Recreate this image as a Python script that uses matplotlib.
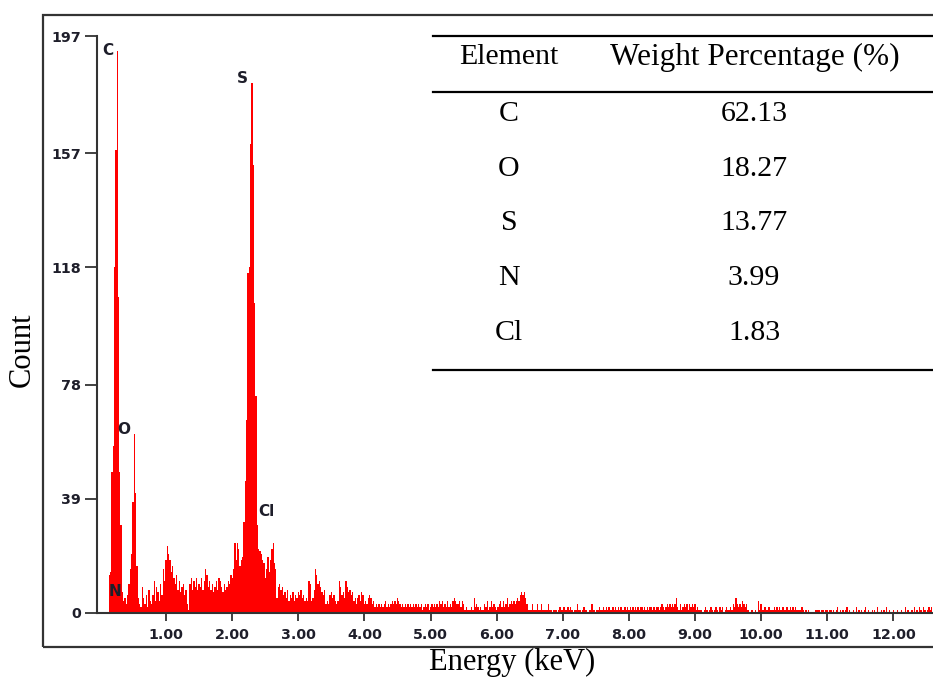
import numpy as np
import matplotlib
matplotlib.use('Agg')
import matplotlib.pyplot as plt
from matplotlib.lines import Line2D
from matplotlib.patches import Rectangle

# EDS spectrum: counts per channel, channels of 0.02 keV starting at 0.10 keV
start_kev = 0.10
channel_kev = 0.02
counts = [
    # 0.10 - 0.58
    0, 0, 13, 14, 48, 57, 118, 158, 192, 108, 48, 30, 7, 4, 5, 3, 6, 10, 15, 20, 38, 61, 41, 16, 5,
    # 0.60 - 1.08
    3, 2, 9, 5, 3, 6, 2, 8, 4, 3, 6, 11, 4, 9, 7, 4, 10, 6, 15, 11, 18, 23, 20, 18, 14,
    # 1.10 - 1.58
    16, 12, 10, 13, 8, 11, 7, 9, 10, 6, 8, 3, 1, 10, 12, 8, 11, 9, 12, 8, 10, 9, 12, 8, 11,
    # 1.60 - 2.08
    15, 13, 9, 11, 8, 10, 7, 9, 11, 8, 12, 11, 9, 7, 10, 8, 9, 11, 10, 13, 12, 15, 24, 18, 24,
    # 2.10 - 2.58
    22, 16, 18, 19, 31, 45, 66, 116, 118, 160, 181, 153, 106, 74, 30, 22, 21, 20, 18, 17, 12, 15, 19, 14, 18,
    # 2.60 - 3.08
    22, 24, 17, 15, 5, 9, 10, 8, 9, 6, 7, 5, 8, 4, 6, 5, 7, 4, 6, 5, 7, 6, 8, 5, 6,
    # 3.10 - 3.58
    4, 5, 4, 11, 10, 4, 5, 8, 15, 13, 10, 11, 9, 7, 6, 8, 3, 4, 3, 6, 7, 5, 6, 4, 3,
    # 3.60 - 4.08
    4, 11, 9, 6, 7, 5, 11, 9, 7, 8, 6, 7, 4, 5, 3, 5, 6, 4, 7, 6, 3, 4, 3, 5, 6,
    # 4.10 - 4.58
    5, 3, 4, 2, 3, 2, 3, 2, 3, 2, 3, 4, 2, 3, 2, 3, 4, 3, 4, 3, 5, 4, 3, 2, 3,
    # 4.60 - 5.08
    2, 3, 2, 3, 2, 3, 2, 3, 2, 3, 2, 3, 2, 3, 1, 2, 3, 2, 3, 1, 2, 3, 2, 3, 2,
    # 5.10 - 5.58
    3, 2, 4, 3, 4, 2, 3, 2, 4, 2, 3, 2, 4, 5, 4, 3, 3, 4, 2, 4, 3, 1, 2, 1, 1,
    # 5.60 - 6.08
    1, 2, 1, 5, 2, 3, 2, 1, 2, 1, 1, 3, 2, 4, 1, 2, 4, 2, 3, 2, 1, 2, 3, 4, 2,
    # 6.10 - 6.58
    4, 2, 3, 5, 2, 3, 4, 3, 4, 3, 4, 5, 4, 6, 7, 6, 7, 5, 3, 1, 1, 1, 3, 1, 1,
    # 6.60 - 7.08
    1, 3, 1, 1, 3, 1, 1, 1, 1, 3, 1, 1, 0, 1, 1, 1, 0, 1, 2, 1, 1, 2, 1, 1, 2,
    # 7.10 - 7.58
    1, 2, 1, 0, 1, 1, 3, 1, 1, 0, 1, 2, 1, 1, 0, 1, 1, 3, 1, 1, 0, 1, 1, 2, 1,
    # 7.60 - 8.08
    1, 2, 1, 2, 1, 2, 1, 1, 2, 1, 2, 1, 2, 1, 2, 1, 1, 2, 1, 2, 1, 2, 1, 2, 1,
    # 8.10 - 8.58
    2, 1, 2, 1, 2, 2, 1, 2, 1, 2, 1, 2, 2, 1, 2, 1, 2, 2, 1, 2, 3, 2, 1, 2, 3,
    # 8.60 - 9.08
    2, 3, 2, 3, 2, 3, 5, 2, 1, 3, 1, 2, 3, 2, 3, 1, 3, 2, 3, 2, 3, 1, 2, 1, 1,
    # 9.10 - 9.58
    1, 0, 1, 2, 1, 0, 1, 2, 1, 0, 1, 2, 1, 0, 2, 1, 2, 0, 1, 2, 1, 1, 2, 1, 3,
    # 9.60 - 10.08
    2, 5, 3, 2, 3, 2, 4, 3, 2, 3, 1, 0, 0, 1, 0, 0, 1, 0, 4, 1, 3, 1, 1, 2, 1,
    # 10.10 - 10.58
    1, 2, 1, 1, 1, 2, 1, 2, 1, 2, 1, 2, 2, 1, 2, 2, 1, 2, 1, 2, 1, 2, 1, 1, 1,
    # 10.60 - 11.08
    1, 2, 1, 0, 1, 0, 1, 0, 0, 0, 0, 1, 1, 1, 1, 0, 1, 1, 0, 1, 1, 0, 1, 1, 0,
    # 11.10 - 11.58
    1, 0, 1, 2, 0, 1, 0, 1, 0, 1, 2, 0, 1, 0, 0, 1, 0, 2, 0, 1, 0, 1, 0, 1, 2,
    # 11.60 - 12.08
    0, 1, 0, 0, 1, 0, 1, 0, 2, 0, 0, 1, 0, 1, 0, 2, 0, 1, 0, 0, 1, 0, 0, 1, 0,
    # 12.10 - 12.58
    0, 1, 0, 0, 2, 0, 1, 0, 0, 1, 0, 2, 0, 1, 0, 2, 1, 0, 2, 1, 0, 1, 2, 1, 2,
]

x_ticks = [1, 2, 3, 4, 5, 6, 7, 8, 9, 10, 11, 12]
x_ticklabels = ['1.00', '2.00', '3.00', '4.00', '5.00', '6.00',
                '7.00', '8.00', '9.00', '10.00', '11.00', '12.00']
y_ticks = [0, 39, 78, 118, 157, 197]

# peak labels as placed on the spectrum (keV, count)
peak_names = ['C', 'O', 'S', 'Cl', 'N']
peak_label_x = [0.12, 0.36, 2.16, 2.52, 0.23]
peak_label_y = [192, 62.5, 182.6, 34.5, 7.2]

# inset table
elements = ['C', 'O', 'S', 'N', 'Cl']
weights = ['62.13', '18.27', '13.77', '3.99', '1.83']

W, H = 933, 678
serif = 'Liberation Serif'
dark = '#1e1e2a'

fig = plt.figure(figsize=(W / 100, H / 100), dpi=100)


def fx(px):
    return px / W


def fy(py):
    return 1 - py / H


ax = fig.add_axes([fx(97), fy(613), fx(933) - fx(97), fy(36) - fy(613)])

energy = start_kev + channel_kev * np.arange(len(counts))
ax.bar(energy, counts, width=channel_kev, color='#ff0000', linewidth=0)

ax.set_xlim(-0.045, 12.6)
ax.set_ylim(0, 197)
ax.set_xticks(x_ticks)
ax.set_xticklabels(x_ticklabels)
ax.set_yticks(y_ticks)
for lab in ax.get_xticklabels() + ax.get_yticklabels():
    lab.set_fontfamily('DejaVu Sans')
    lab.set_fontweight('bold')
    lab.set_fontsize(10.3)
    lab.set_color(dark)
ax.tick_params(axis='y', length=8.5, width=1.3, pad=3, color='#333333')
ax.tick_params(axis='x', length=6, width=1.3, pad=4.5, color='#333333')
for side in ['top', 'right']:
    ax.spines[side].set_visible(False)
for side in ['left', 'bottom']:
    ax.spines[side].set_linewidth(1.5)
    ax.spines[side].set_color('#333333')

for name, px, py in zip(peak_names, peak_label_x, peak_label_y):
    ax.text(px, py, name, fontsize=11, fontweight='bold', color=dark,
            ha='center', va='center')

ax.set_xlabel('Energy (keV)', family=serif, fontsize=22)
ax.set_ylabel('Count', family=serif, fontsize=22)
ax.xaxis.set_label_coords((512 - 97) / 836, (613 - 662) / 577)
ax.xaxis.label.set_va('center')
ax.yaxis.set_label_coords((22 - 97) / 836, (613 - 350) / 577)
ax.yaxis.label.set_va('center')

# outer frame
fig.patches.append(Rectangle((fx(43), fy(647)), fx(960) - fx(43), fy(15) - fy(647),
                             transform=fig.transFigure, fill=False,
                             edgecolor='#333333', linewidth=1.6))

# table
for py in [36, 92, 370]:
    fig.add_artist(Line2D([fx(433), fx(940)], [fy(py), fy(py)],
                          transform=fig.transFigure, color='black', linewidth=1.6))
fig.text(fx(509), fy(57), 'Element', family=serif, fontsize=21.5, ha='center', va='center')
fig.text(fx(755), fy(57), 'Weight Percentage (%)', family=serif, fontsize=22.5,
         ha='center', va='center')
row_y = [114, 169, 223, 278, 333]
for el, wt, py in zip(elements, weights, row_y):
    fig.text(fx(509), fy(py), el, family=serif, fontsize=21.5, ha='center', va='center')
    fig.text(fx(754), fy(py), wt, family=serif, fontsize=21.5, ha='center', va='center')

fig.savefig('out.png', dpi=100)
